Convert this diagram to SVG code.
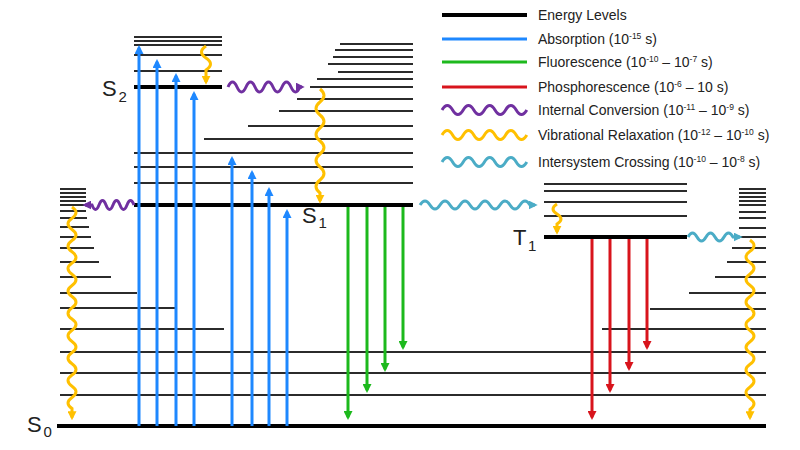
<svg xmlns="http://www.w3.org/2000/svg" width="800" height="450" viewBox="0 0 800 450">
<style>
.lv{stroke:#2b2b2b;stroke-width:2;fill:none}
.th{stroke:#000;stroke-width:4;fill:none}
.ab{stroke:#1E88FF;stroke-width:3;fill:none}
.fl{stroke:#1DB91D;stroke-width:3;fill:none}
.ph{stroke:#D8141C;stroke-width:3;fill:none}
.ic{stroke:#7030A0;stroke-width:3;fill:none}
.vr{stroke:#FFC000;stroke-width:3;fill:none}
.isc{stroke:#4BACC6;stroke-width:3;fill:none}
.lt{font-family:"Liberation Sans",Arial,sans-serif;font-size:14px;fill:#222}
.sp{font-size:8.5px}
.st{font-family:"Liberation Sans",Arial,sans-serif;font-size:22px;fill:#222}
.sb{font-family:"Liberation Sans",Arial,sans-serif;font-size:15px;fill:#222}
</style>
<defs>
<marker id="mb" viewBox="0 0 10 10" refX="7" refY="5" markerWidth="3" markerHeight="3" orient="auto" markerUnits="strokeWidth"><path d="M0,0L10,5L0,10z" fill="#1E88FF"/></marker>
<marker id="mg" viewBox="0 0 10 10" refX="7" refY="5" markerWidth="3" markerHeight="3" orient="auto" markerUnits="strokeWidth"><path d="M0,0L10,5L0,10z" fill="#1DB91D"/></marker>
<marker id="mr" viewBox="0 0 10 10" refX="7" refY="5" markerWidth="3" markerHeight="3" orient="auto" markerUnits="strokeWidth"><path d="M0,0L10,5L0,10z" fill="#D8141C"/></marker>
<marker id="mp" viewBox="0 0 10 10" refX="7" refY="5" markerWidth="3" markerHeight="3" orient="auto" markerUnits="strokeWidth"><path d="M0,0L10,5L0,10z" fill="#7030A0"/></marker>
<marker id="my" viewBox="0 0 10 10" refX="7" refY="5" markerWidth="3" markerHeight="3" orient="auto" markerUnits="strokeWidth"><path d="M0,0L10,5L0,10z" fill="#FFC000"/></marker>
<marker id="mc" viewBox="0 0 10 10" refX="7" refY="5" markerWidth="3" markerHeight="3" orient="auto" markerUnits="strokeWidth"><path d="M0,0L10,5L0,10z" fill="#4BACC6"/></marker>
</defs>
<rect width="800" height="450" fill="#fff"/>

<g id="S0">
<path class="lv" d="M60,189H86M60,193H86M60,197H86M60,201H86M60,205H86M60,211H86M60,218H87M60,227H89M60,237H91M60,248H94M60,262H99M60,277H111M60,293H137M60,308H175M60,329H224"/>
<path class="lv" d="M739,189H766M739,193H766M739,197H766M739,201H766M739,205H766M739,212H766M739,218H766M739,228H766M739,237H766M732,248H766M727,262H766M715,277H766M689,293H766M650,309H766M602,329H766"/>
<path class="lv" d="M60,352H766M60,373H766M60,395H766"/>
<path class="th" d="M57,426H766"/>
<text class="st" x="27" y="432">S</text><text class="sb" x="43.5" y="437">0</text>
</g>

<g id="S1">
<path class="lv" d="M340,44H413M335,50H413M333,57H413M328,64H413M338,72H413M317,79H413M310,87H413M297,99H413M279,111H413M248,126H413M204,139H413M134,153H413M134,167H413M134,183H413"/>
<path class="th" d="M134,205H413"/>
<text class="st" x="302" y="223">S</text><text class="sb" x="318.5" y="228">1</text>
</g>

<g id="S2">
<path class="lv" d="M134,37H222M134,41H222M134,45H222M134,55H222M134,71H222"/>
<path class="th" d="M134,87H222"/>
<text class="st" x="102" y="96">S</text><text class="sb" x="118.5" y="102">2</text>
</g>

<g id="T1">
<path class="lv" d="M544,184H687M544,191H687M544,202H687M544,216H687"/>
<path class="th" d="M544,237H687"/>
<text class="st" x="513" y="245">T</text><text class="sb" x="528" y="251">1</text>
</g>

<g id="connectors">
<path class="ab" marker-end="url(#mb)" d="M139,426V47.7"/>
<path class="ab" marker-end="url(#mb)" d="M157,426V61.7"/>
<path class="ab" marker-end="url(#mb)" d="M176,426V75.7"/>
<path class="ab" marker-end="url(#mb)" d="M194,426V93.7"/>
<path class="ab" marker-end="url(#mb)" d="M232,426V158.7"/>
<path class="ab" marker-end="url(#mb)" d="M252,426V172.7"/>
<path class="ab" marker-end="url(#mb)" d="M269,426V189.7"/>
<path class="ab" marker-end="url(#mb)" d="M287,426V211.7"/>

<path class="fl" marker-end="url(#mg)" d="M348,207V417.3"/>
<path class="fl" marker-end="url(#mg)" d="M367,207V390.3"/>
<path class="fl" marker-end="url(#mg)" d="M385,207V369.3"/>
<path class="fl" marker-end="url(#mg)" d="M403,207V347.3"/>

<path class="ph" marker-end="url(#mr)" d="M592,239V417.3"/>
<path class="ph" marker-end="url(#mr)" d="M610,239V390.3"/>
<path class="ph" marker-end="url(#mr)" d="M629,239V368.3"/>
<path class="ph" marker-end="url(#mr)" d="M647,239V347.3"/>

<path class="vr" marker-end="url(#my)" d="M206,46q-9,6 0,12t0,12v12"/>
<path class="vr" marker-end="url(#my)" d="M320,89q8,6.5 0,13t0,13t0,13t0,13t0,13t0,13t0,13t0,13v8"/>
<path class="vr" marker-end="url(#my)" d="M72,207q8,5.6 0,11.2t0,11.2t0,11.2t0,11.2t0,11.2t0,11.2t0,11.2t0,11.2t0,11.2t0,11.2t0,11.2t0,11.2t0,11.2t0,11.2t0,11.2t0,11.2t0,11.2t0,11.2v9"/>
<path class="vr" marker-end="url(#my)" d="M557,204q-8,5 0,10t0,10v8"/>
<path class="vr" marker-end="url(#my)" d="M750,240q8,5.65 0,11.3t0,11.3t0,11.3t0,11.3t0,11.3t0,11.3t0,11.3t0,11.3t0,11.3t0,11.3t0,11.3t0,11.3t0,11.3t0,11.3t0,11.3v8"/>

<path class="ic" marker-end="url(#mp)" d="M228,87q4.5,-10 9,0t9,0t9,0t9,0t9,0t9,0t9,0t9,0h2"/>
<path class="ic" marker-end="url(#mp)" d="M134,205q-3.5,-9 -7,0t-7,0t-7,0t-7,0t-7,0t-7,0h-7"/>

<path class="isc" marker-end="url(#mc)" d="M420,205q5,-8 10,0t10,0t10,0t10,0t10,0t10,0t10,0t10,0t10,0t10,0t10,0h5"/>
<path class="isc" marker-end="url(#mc)" d="M688,237q4.5,-8 9,0t9,0t9,0t9,0t9,0h7"/>
</g>

<g id="legend">
<path class="th" d="M442,15H527"/>
<path class="ab" d="M442,39H527"/>
<path class="fl" d="M442,62H527"/>
<path class="ph" d="M442,87H527"/>
<path class="ic" stroke-width="3.5" d="M442,110q5.3,-9 10.6,0t10.6,0t10.6,0t10.6,0t10.6,0t10.6,0t10.6,0t10.6,0"/>
<path class="vr" stroke-width="3.5" d="M442,135q5.3,-9 10.6,0t10.6,0t10.6,0t10.6,0t10.6,0t10.6,0t10.6,0t10.6,0"/>
<path class="isc" stroke-width="3.5" d="M442,162q5.3,-9 10.6,0t10.6,0t10.6,0t10.6,0t10.6,0t10.6,0t10.6,0t10.6,0"/>
<text class="lt" x="538" y="20">Energy Levels</text>
<text class="lt" x="538" y="44">Absorption (10<tspan class="sp" dy="-5">-15</tspan><tspan dy="5"> s)</tspan></text>
<text class="lt" x="538" y="67">Fluorescence (10<tspan class="sp" dy="-5">-10</tspan><tspan dy="5"> – 10</tspan><tspan class="sp" dy="-5">-7</tspan><tspan dy="5"> s)</tspan></text>
<text class="lt" x="538" y="92">Phosphorescence (10<tspan class="sp" dy="-5">-6</tspan><tspan dy="5"> – 10 s)</tspan></text>
<text class="lt" x="538" y="115">Internal Conversion (10<tspan class="sp" dy="-5">-11</tspan><tspan dy="5"> – 10</tspan><tspan class="sp" dy="-5">-9</tspan><tspan dy="5"> s)</tspan></text>
<text class="lt" x="538" y="140">Vibrational Relaxation (10<tspan class="sp" dy="-5">-12</tspan><tspan dy="5"> – 10</tspan><tspan class="sp" dy="-5">-10</tspan><tspan dy="5"> s)</tspan></text>
<text class="lt" x="538" y="167">Intersystem Crossing (10<tspan class="sp" dy="-5">-10</tspan><tspan dy="5"> – 10</tspan><tspan class="sp" dy="-5">-8</tspan><tspan dy="5"> s)</tspan></text>
</g>
</svg>
